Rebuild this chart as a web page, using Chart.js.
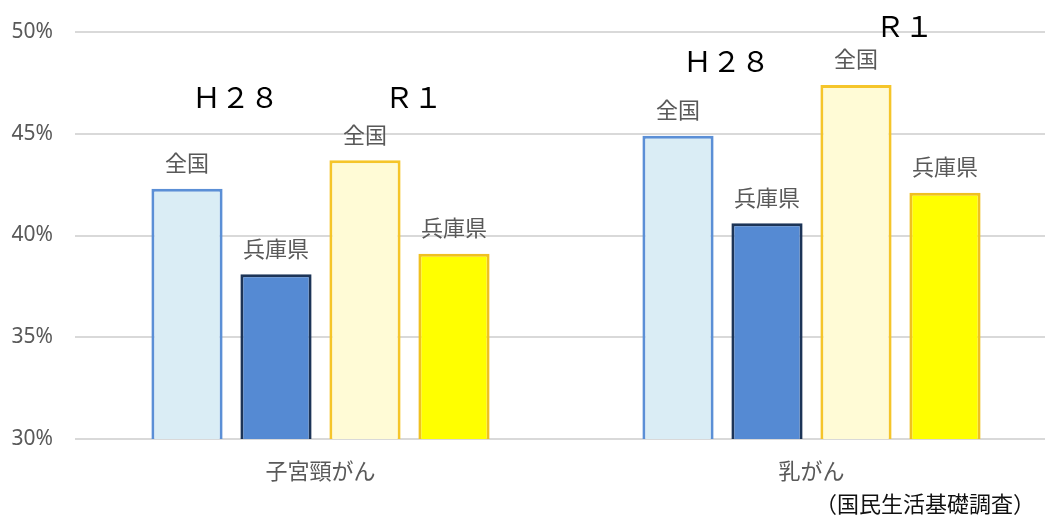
<!DOCTYPE html>
<html lang="ja">
<head>
<meta charset="utf-8">
<script src="https://cdn.jsdelivr.net/npm/chart.js@4/dist/chart.umd.min.js"></script>
<style>
  html, body { margin: 0; padding: 0; background: #fff; overflow: hidden; }
  #wrap { position: relative; width: 1057px; height: 517px; }
</style>
</head>
<body>
<div id="wrap"><canvas id="grafico"></canvas></div>
<script>
// datos (国民生活基礎調査)
const categorias = ["子宮頸がん", "乳がん"];
const zenkokuH28 = [42.3, 44.9];
const hyogoH28 = [38.1, 40.6];
const zenkokuR1 = [43.7, 47.4];
const hyogoR1 = [39.1, 42.1];
const nombresBarra = ["全国", "兵庫県", "全国", "兵庫県"];
const periodos = ["Ｈ２８", "Ｒ１"];
const ticksY = [30, 35, 40, 45, 50];
const fuente = "（国民生活基礎調査）";

const gris = "#595959";
const jp = "'Noto Sans CJK JP', 'Noto Sans', sans-serif";

// ubicacion de las etiquetas Ｈ２８ / Ｒ１ (en unidades del eje y)
const nivelPeriodo = [[46.8, 46.8], [48.6, 50.3]];

const etiquetas = {
  id: "etiquetas",
  afterDatasetsDraw(chart) {
    const ctx = chart.ctx;
    const y = chart.scales.y;
    ctx.save();
    ctx.textAlign = "center";
    ctx.textBaseline = "middle";
    // nombres sobre cada barra
    ctx.fillStyle = gris;
    ctx.font = "22px " + jp;
    chart.data.datasets.forEach((ds, i) => {
      chart.getDatasetMeta(i).data.forEach(bar => {
        ctx.fillText(nombresBarra[i], bar.x, bar.y - 26);
      });
    });
    // periodos
    ctx.fillStyle = "#000";
    ctx.font = "29px " + jp;
    for (let c = 0; c < categorias.length; c++) {
      for (let p = 0; p < periodos.length; p++) {
        const b1 = chart.getDatasetMeta(p * 2).data[c];
        const b2 = chart.getDatasetMeta(p * 2 + 1).data[c];
        ctx.fillText(periodos[p], (b1.x + b2.x) / 2 + 4, y.getPixelForValue(nivelPeriodo[c][p]));
      }
    }
    // fuente
    ctx.textAlign = "right";
    ctx.fillStyle = "#111";
    ctx.font = "22px " + jp;
    ctx.fillText(fuente, 1035, 504);
    ctx.restore();
  }
};

const ctx = document.getElementById("grafico").getContext("2d");
const miGrafico = new Chart(ctx, {
  type: "bar",
  data: {
    labels: categorias,
    datasets: [
      { label: "全国 H28", data: zenkokuH28, backgroundColor: "#daedf5", borderColor: "#5b8fd6", borderWidth: 3 },
      { label: "兵庫県 H28", data: hyogoH28, backgroundColor: "#558ad3", borderColor: "#1c3457", borderWidth: 3 },
      { label: "全国 R1", data: zenkokuR1, backgroundColor: "#fffbd6", borderColor: "#f5c52a", borderWidth: 3 },
      { label: "兵庫県 R1", data: hyogoR1, backgroundColor: "#ffff00", borderColor: "#f0c020", borderWidth: 3 },
    ],
  },
  options: {
    responsive: true,
    maintainAspectRatio: false,
    animation: false,
    layout: { padding: { top: 32, right: 0, bottom: 0, left: 0 } },
    datasets: { bar: { barPercentage: 0.8, categoryPercentage: 0.725 } },
    plugins: {
      legend: { display: false },
      tooltip: { enabled: false },
    },
    scales: {
      x: {
        grid: { display: false },
        border: { display: false },
        ticks: { color: gris, font: { family: jp, size: 22 }, padding: 10 },
        afterFit: s => { s.height = 78; },
      },
      y: {
        min: 30,
        max: 50,
        afterBuildTicks: s => { s.ticks = ticksY.map(v => ({ value: v })); },
        grid: { color: "#d9d9d9", lineWidth: 2, drawTicks: false },
        border: { display: false },
        ticks: {
          color: gris,
          padding: 22,
          font: { family: "'Noto Sans', sans-serif", size: 21 },
          callback: v => v + "%",
        },
        afterFit: s => { s.width = 75; s.paddingTop = 0; s.paddingBottom = 0; },
      },
    },
  },
  plugins: [etiquetas],
});
</script>
</body>
</html>
